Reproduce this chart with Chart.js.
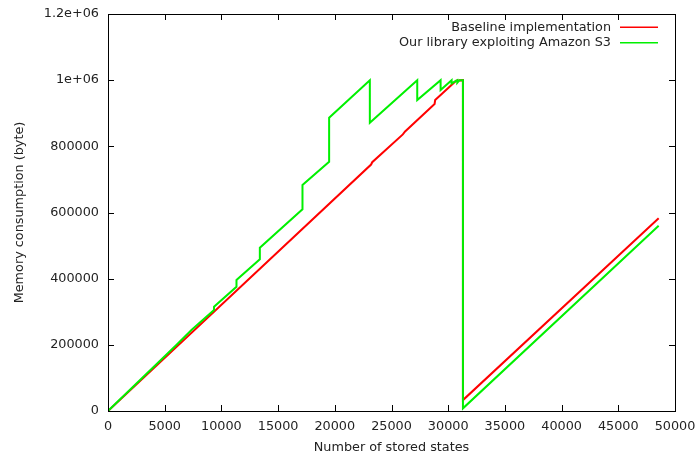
<!DOCTYPE html>
<html>
<head>
<meta charset="utf-8">
<script src="https://cdn.jsdelivr.net/npm/chart.js@4.4.1/dist/chart.umd.min.js"></script>
<style>
  html, body { margin: 0; padding: 0; background: #fff; }
  #wrap { width: 697px; height: 457px; }
</style>
</head>
<body>
<div id="wrap"><canvas id="chart1" width="697" height="457"></canvas></div>
<script>
// data
const baselineX = [0, 23200, 23300, 26000, 26200, 28800, 28850, 30700, 31300, 31300, 48560];
const baselineY = [0, 745000, 752000, 836000, 845000, 928000, 940000, 998000, 1000000, 33000, 582500];

const s3X = [0, 6030, 7360, 9350, 9350, 11330, 11330, 13390, 13390, 17150, 17150, 19500, 19500,
  23090, 23090, 27270, 27270, 29330, 29330, 30300, 30300, 30800, 30800, 31000, 31300, 31300, 48560];
const s3Y = [0, 199500, 244800, 305000, 315000, 375700, 396000, 458500, 493600, 609700, 683100, 753500, 886500,
  1000000, 871000, 1000000, 940000, 1000000, 970000, 1000000, 990000, 1000000, 992000, 1000000, 1000000, 8000, 560000];

const seriesLabels = ["Baseline implementation", "Our library exploiting Amazon S3"];
const seriesColors = ["#ff0000", "#00f000"];

const xTitle = "Number of stored states";
const yTitle = "Memory consumption (byte)";

function toPoints(xs, ys) {
  return xs.map((x, i) => ({ x: x, y: ys[i] }));
}

const FONT = "'DejaVu Sans', sans-serif";
const FSIZE = 12.8;

// gnuplot style frame: full box, inward ticks on all sides, legend top right
const frame = {
  id: 'frame',
  afterDraw(chart) {
    const ctx = chart.ctx;
    const a = chart.chartArea;
    const xs = chart.scales.x, ys = chart.scales.y;
    ctx.save();
    ctx.strokeStyle = '#000';
    ctx.lineWidth = 1;
    ctx.strokeRect(Math.round(a.left) + 0.5, Math.round(a.top) + 0.5,
      Math.round(a.right - a.left), Math.round(a.bottom - a.top));
    const t = 6;
    ctx.beginPath();
    xs.ticks.forEach(tk => {
      const px = Math.round(xs.getPixelForValue(tk.value)) + 0.5;
      ctx.moveTo(px, a.bottom); ctx.lineTo(px, a.bottom - t);
      ctx.moveTo(px, a.top); ctx.lineTo(px, a.top + t);
    });
    ys.ticks.forEach(tk => {
      const py = Math.round(ys.getPixelForValue(tk.value)) + 0.5;
      ctx.moveTo(a.left, py); ctx.lineTo(a.left + t, py);
      ctx.moveTo(a.right, py); ctx.lineTo(a.right - t, py);
    });
    ctx.stroke();

    // legend
    ctx.font = FSIZE + 'px ' + FONT;
    ctx.fillStyle = '#222';
    ctx.textAlign = 'right';
    ctx.textBaseline = 'middle';
    seriesLabels.forEach((lab, i) => {
      const y = 27.3 + i * 15.4;
      ctx.fillText(lab, 611, y);
      ctx.strokeStyle = seriesColors[i];
      ctx.lineWidth = 1.5;
      ctx.beginPath();
      ctx.moveTo(620, y); ctx.lineTo(658, y);
      ctx.stroke();
    });
    ctx.restore();
  }
};

const data = {
  datasets: [
    {
      label: seriesLabels[0],
      data: toPoints(baselineX, baselineY),
      borderColor: seriesColors[0],
      borderWidth: 2,
      showLine: true,
      pointRadius: 0,
      order: 1,
    },
    {
      label: seriesLabels[1],
      data: toPoints(s3X, s3Y),
      borderColor: seriesColors[1],
      borderWidth: 2,
      showLine: true,
      pointRadius: 0,
      order: 0,
    },
  ]
};

const config = {
  type: 'scatter',
  data: data,
  options: {
    responsive: false,
    animation: false,
    layout: { padding: { top: 14, right: 22, left: 0, bottom: 0 } },
    plugins: {
      legend: { display: false },
      tooltip: { enabled: false },
    },
    scales: {
      x: {
        type: 'linear',
        min: 0,
        max: 50000,
        afterFit: (s) => { s.height = 46; s.paddingLeft = 0; s.paddingRight = 0; },
        ticks: {
          stepSize: 5000,
          color: '#222',
          padding: 8,
          maxRotation: 0,
          font: { family: FONT, size: FSIZE },
          callback: (v) => String(v),
        },
        grid: { display: false, drawTicks: false },
        border: { display: false },
        title: {
          display: true,
          text: xTitle,
          color: '#222',
          font: { family: FONT, size: FSIZE },
          padding: { top: 0, bottom: 2 },
        },
      },
      y: {
        type: 'linear',
        min: 0,
        max: 1200000,
        afterFit: (s) => { s.width = 108; s.paddingTop = 0; s.paddingBottom = 0; },
        ticks: {
          stepSize: 200000,
          color: '#222',
          padding: 9,
          font: { family: FONT, size: FSIZE },
          callback: (v) => v >= 1000000 ? (v / 1000000) + 'e+06' : String(v),
        },
        grid: { display: false, drawTicks: false },
        border: { display: false },
        title: {
          display: true,
          text: yTitle,
          color: '#222',
          font: { family: FONT, size: FSIZE },
          padding: { top: 12, bottom: 0 },
        },
      },
    },
  },
  plugins: [frame],
};

const myChart1 = new Chart(document.getElementById('chart1'), config);
</script>
</body>
</html>
